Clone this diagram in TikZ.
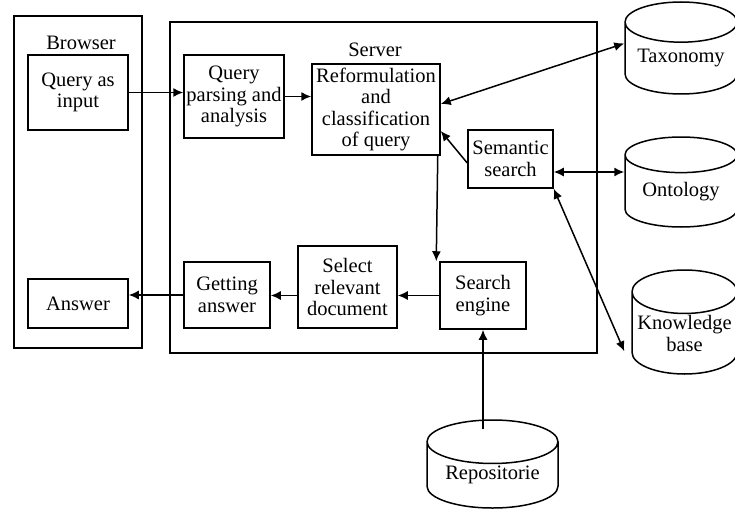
\documentclass[tikz,border=0pt]{standalone}
\usepackage
{
	fontspec,
	tikz
}
\usetikzlibrary{arrows.meta, shapes.geometric}
\setmainfont{Liberation Serif}

\begin{document}
\begin{tikzpicture}[x=1pt, y=-1pt, line width=1.5pt,
	frame/.style={draw, rectangle, inner sep=0pt},
	box/.style={draw, rectangle, align=center, inner sep=1pt, font=\fontsize{20.5}{21.5}\selectfont},
	store/.style={draw, cylinder, shape border rotate=90, aspect=0.46, anchor=shape center, align=center, inner sep=0pt, font=\fontsize{20.5}{21.5}\selectfont},
	title/.style={font=\fontsize{20.5}{21.5}\selectfont},
	arr/.style={-{Latex[length=10pt, width=9pt]}},
	darr/.style={{Latex[length=10pt, width=9pt]}-{Latex[length=10pt, width=9pt]}}]
{
	\useasboundingbox (0,0) rectangle (735,508);
	% browser side
	\node[frame, minimum width=128pt, minimum height=332pt] (Browser) at (78,182) {};
	\node[title] (BrowserLabel) at (81,43) {Browser};
	\node[box, minimum width=100pt, minimum height=75pt] (Input) at (78,92.5) {Query as\\input};
	\node[box, minimum width=100pt, minimum height=49pt] (Answer) at (78,303.5) {Answer};
	% server side
	\node[frame, minimum width=427pt, minimum height=331pt] (Server) at (383.5,187.5) {};
	\node[title] (ServerLabel) at (375,50) {Server};
	\node[box, minimum width=100pt, minimum height=83pt] (Parsing) at (234,96.5) {Query\\parsing and\\analysis};
	\node[box, minimum width=128pt, minimum height=91pt] (Reform) at (376,109.5) {Reformulation\\and\\classification\\of query};
	\node[box, minimum width=85pt, minimum height=58pt] (Semantic) at (510.5,159) {Semantic\\search};
	\node[box, minimum width=86pt, minimum height=67pt] (Engine) at (483,295.5) {Search\\engine};
	\node[box, minimum width=99pt, minimum height=82pt] (Select) at (347.5,287) {Select\\relevant\\document};
	\node[box, minimum width=86pt, minimum height=66pt] (Getting) at (227,295) {Getting\\answer};
	% stores
	\node[store, minimum width=112pt, minimum height=92pt] (Taxonomy) at (681,48) {Taxonomy};
	\node[store, minimum width=112pt, minimum height=90pt] (Ontology) at (681,182) {Ontology};
	\node[store, minimum width=105pt, minimum height=104pt] (Knowledge) at (684.5,322) {Knowledge\\base};
	\node[store, minimum width=131pt, minimum height=88pt] (Repo) at (492.5,464) {Repositorie};
	% arrows
	\draw[arr] (Input.east) -- (Input.east -| Parsing.west);
	\draw[arr] (Parsing.east) -- (Parsing.east -| Reform.west);
	\draw[darr] ([yshift=5.5pt]Reform.east) -- ([yshift=15pt]Taxonomy.west);
	\draw[arr] ([yshift=-4pt]Semantic.west) -- ([yshift=-21.5pt]Reform.east);
	\draw[darr] ([yshift=-13pt]Semantic.east) -- ([yshift=-13pt]Semantic.east -| Ontology.west);
	\draw[darr] (Semantic.south east) -- ([xshift=-7pt, yshift=-18pt]Knowledge.west);
	\draw[arr] ([xshift=-3pt]Reform.south east) -- ([xshift=-3pt]Engine.north west);
	\draw[arr] (Engine.west) -- (Engine.west -| Select.east);
	\draw[arr] (Engine.west -| Select.west) -- (Engine.west -| Getting.east);
	\draw[arr] (Getting.west) -- (Getting.west -| Answer.east);
	\draw[arr] ([yshift=-10pt]Repo.north -| Engine.south) -- (Engine.south);
}
\end{tikzpicture}
\end{document}
